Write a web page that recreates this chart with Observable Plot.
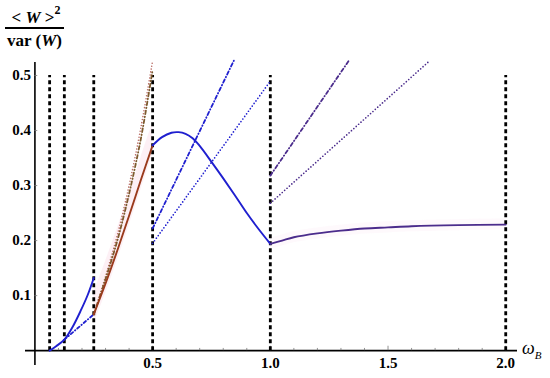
<!DOCTYPE html>
<html><head><meta charset="utf-8">
<script src="https://cdn.jsdelivr.net/npm/d3@7"></script>
<script src="https://cdn.jsdelivr.net/npm/@observablehq/plot@0.6"></script>
<style>
body{margin:0;background:#fff;}
#wrap{position:relative;width:550px;height:378px;overflow:hidden;}
.t{position:absolute;font-family:"Liberation Serif",serif;color:#000;white-space:nowrap;}
</style></head><body>
<div id="wrap"></div>
<script>
// ---- data ----
const xTicks = [0.5, 1.0, 1.5, 2.0];
const yTicks = [0.1, 0.2, 0.3, 0.4, 0.5];
const boundaries = [0.0625, 0.125, 0.25, 0.5, 1.0, 2.0];
const boundaryTop = 0.5;

// solid curves
const blueLow = [[0.0625,0.0],[0.09,0.008],[0.125,0.02],[0.16,0.043],[0.195,0.073],[0.225,0.102],[0.25,0.132]];
const brownMid = [[0.25,0.066],[0.3,0.122],[0.35,0.182],[0.4,0.245],[0.45,0.31],[0.5,0.373]];
const blueHigh = [[0.5,0.373],[0.54,0.388],[0.58,0.396],[0.61,0.397],[0.64,0.394],[0.67,0.386],[0.7,0.372],[0.75,0.343],[0.8,0.313],[0.85,0.282],[0.9,0.25],[0.95,0.221],[1.0,0.194]];
const purpleTop = [[1.0,0.194],[1.05,0.2],[1.1,0.206],[1.2,0.213],[1.3,0.218],[1.4,0.222],[1.5,0.224],[1.6,0.226],[1.8,0.228],[2.0,0.229]];

// dash-dot and dotted companions
const blueLowDash = [[0.125,0.02],[0.25,0.066]];
const brownDash = [[0.25,0.066],[0.3,0.13],[0.35,0.2],[0.4,0.285],[0.45,0.385],[0.5,0.51]];
const brownDot = [[0.25,0.066],[0.3,0.135],[0.35,0.21],[0.4,0.3],[0.45,0.405],[0.5,0.527]];
const blueDash = [[0.5,0.222],[0.845,0.527]];
const blueDot = [[0.5,0.195],[0.997,0.488]];
const purpleDash = [[1.0,0.318],[1.332,0.526]];
const purpleDot = [[1.0,0.268],[1.675,0.526]];

const minorX = d3.range(1, 21).map(i => i / 10);
const minorY = d3.range(1, 6).map(i => i / 10);

const BLUE = "#1f1fcf", BROWN = "#9a3a1c", BROWN2 = "#7d5a2e", PINKDOT = "#b86a62", PURPLE = "#4b2c8c";
const P = d => d[0], Q = d => d[1];

const chart = Plot.plot({
  width: 550, height: 378,
  marginLeft: 25, marginRight: 33, marginTop: 62, marginBottom: 13,
  x: {domain: [-0.04, 2.05], axis: null},
  y: {domain: [-0.027, 0.5236], axis: null},
  style: {background: "transparent"},
  marks: [
    // faint bands
    Plot.areaY(brownMid, {x: P, y1: d => d[1] - 0.018, y2: d => d[1] + 0.04, fill: "#fbe3ec", fillOpacity: 0.55, curve: "catmull-rom"}),
    Plot.areaY(purpleTop, {x: P, y1: d => d[1] - 0.01, y2: d => d[1] + 0.01, fill: "#fdf3fa", fillOpacity: 0.5, curve: "catmull-rom"}),
    // axes
    Plot.ruleY([0], {stroke: "#000", strokeWidth: 1.6}),
    Plot.ruleX([0], {stroke: "#000", strokeWidth: 1.6}),
    Plot.ruleX(minorX, {x: d => d, y1: 0, y2: d => (Math.abs(d*2 - Math.round(d*2)) < 1e-9 ? 0.008 : 0.004), stroke: "#777", strokeWidth: 0.8}),
    Plot.ruleY(minorY, {y: d => d, x1: 0, x2: 0.012, stroke: "#777", strokeWidth: 0.8}),
    // boundaries
    Plot.ruleX(boundaries, {x: d => d, y1: 0, y2: boundaryTop, stroke: "#000", strokeWidth: 2.8, strokeDasharray: "4,3"}),
    // companions
    Plot.line(blueLowDash, {x: P, y: Q, stroke: BLUE, strokeWidth: 1.8, strokeDasharray: "3,2.5,0.5,2.5", strokeLinecap: "round"}),
    Plot.line(brownDot, {x: P, y: Q, stroke: PINKDOT, strokeWidth: 1.6, strokeDasharray: "0,3", strokeLinecap: "round", curve: "catmull-rom"}),
    Plot.line(brownDash, {x: P, y: Q, stroke: BROWN2, strokeWidth: 1.8, strokeDasharray: "3.5,2.5,0.5,2.5", strokeLinecap: "round", curve: "catmull-rom"}),
    Plot.line(blueDash, {x: P, y: Q, stroke: BLUE, strokeWidth: 1.8, strokeDasharray: "3.5,2.5,0.5,2.5", strokeLinecap: "round"}),
    Plot.line(blueDot, {x: P, y: Q, stroke: BLUE, strokeWidth: 1.7, strokeDasharray: "0,3.2", strokeLinecap: "round"}),
    Plot.line(purpleDash, {x: P, y: Q, stroke: PURPLE, strokeWidth: 1.8, strokeDasharray: "3.5,2.5,0.5,2.5", strokeLinecap: "round"}),
    Plot.line(purpleDot, {x: P, y: Q, stroke: PURPLE, strokeWidth: 1.7, strokeDasharray: "0,3.2", strokeLinecap: "round"}),
    // solid curves
    Plot.line(blueLow, {x: P, y: Q, stroke: BLUE, strokeWidth: 1.9, curve: "catmull-rom"}),
    Plot.line(brownMid, {x: P, y: Q, stroke: BROWN, strokeWidth: 1.9, curve: "catmull-rom"}),
    Plot.line(blueHigh, {x: P, y: Q, stroke: BLUE, strokeWidth: 1.9, curve: "catmull-rom"}),
    Plot.line(purpleTop, {x: P, y: Q, stroke: PURPLE, strokeWidth: 1.9, curve: "catmull-rom"}),
    // tick labels
    Plot.text(xTicks, {x: d => d, y: 0, text: d => d.toFixed(1), dy: 13, fontFamily: "Liberation Serif", fontWeight: "bold", fontSize: 15, fill: "#000"}),
    Plot.text(yTicks, {x: 0, y: d => d, text: d => d.toFixed(1), dx: -4, textAnchor: "end", fontFamily: "Liberation Serif", fontWeight: "bold", fontSize: 15, fill: "#000"})
  ]
});
const wrap = document.getElementById("wrap");
wrap.appendChild(chart);
chart.style.position = "absolute"; chart.style.left = "0"; chart.style.top = "0";

// fraction label (y axis title) and x axis label
const add = (html, css) => { const d = document.createElement("div"); d.className = "t"; d.innerHTML = html; Object.assign(d.style, css); wrap.appendChild(d); };
add('&lt; <i>W</i> &gt;<sup style="font-size:12px;position:relative;top:-2px">2</sup>', {left: "6px", top: "0px", width: "60px", textAlign: "center", fontSize: "17px", fontWeight: "bold", lineHeight: "24px"});
add('', {left: "5px", top: "27px", width: "59px", height: "1.6px", background: "#000"});
add('var (<i>W</i>)', {left: "5px", top: "31px", width: "59px", textAlign: "center", fontSize: "17px", fontWeight: "bold", lineHeight: "20px"});
add('<i>ω</i><sub style="font-size:11px"><i>B</i></sub>', {left: "522px", top: "338px", fontSize: "18px", lineHeight: "20px"});
</script>
</body></html>
